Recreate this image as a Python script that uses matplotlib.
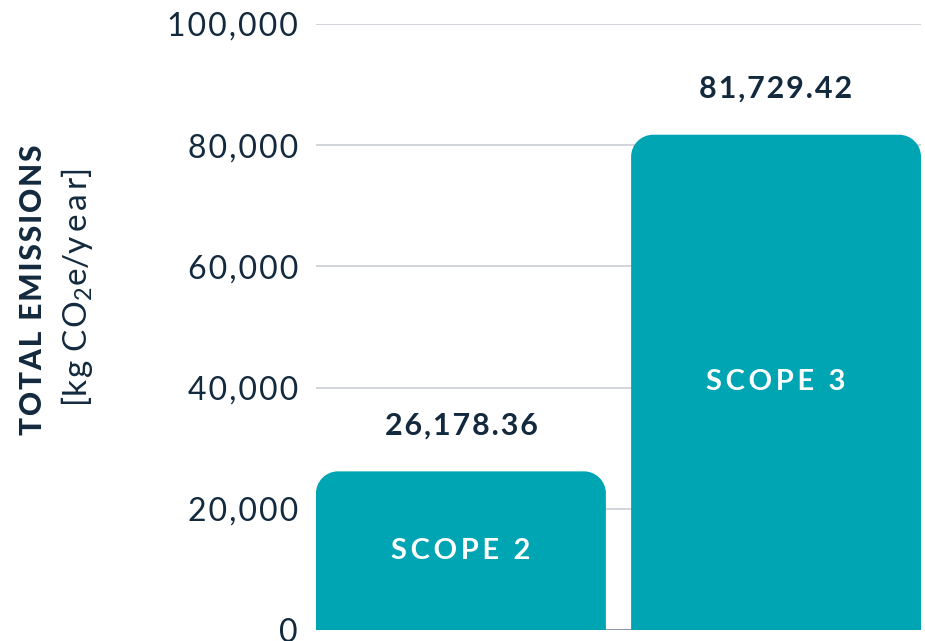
import matplotlib
matplotlib.use("Agg")
import matplotlib.pyplot as plt
from matplotlib.path import Path
from matplotlib.patches import PathPatch
import numpy as np

categories = ["SCOPE 2", "SCOPE 3"]
values = [26178.36, 81729.42]
value_labels = ["26,178.36", "81,729.42"]
yticks = [0, 20000, 40000, 60000, 80000, 100000]
ytick_labels = ["0", "20,000", "40,000", "60,000", "80,000", "100,000"]

plt.rcParams['font.family'] = ['Lato', 'DejaVu Sans']
plt.rcParams['mathtext.fontset'] = 'custom'
plt.rcParams['mathtext.rm'] = 'Lato'

BAR = "#00A5B4"
TEXT = "#13293D"
GRID = "#C9CED6"


def spaced(s, sep="\u200a"):
    return sep.join(list(s))


W, H = 925, 641
fig = plt.figure(figsize=(W / 100, H / 100), dpi=100)
ax = fig.add_axes([316 / W, (H - 630) / H, (921 - 316) / W, (630 - 24) / H])
ax.set_xlim(-0.46, 1.46)
ax.set_ylim(0, 100000)

ax.set_yticks(yticks)
ax.set_yticklabels([spaced(t) for t in ytick_labels], fontsize=23, color=TEXT)
ax.tick_params(axis='y', length=0, pad=13)
ax.set_xticks([])
for s in ax.spines.values():
    s.set_visible(False)
ax.grid(axis='y', color=GRID, lw=1.2)
ax.set_axisbelow(True)
ax.axhline(0, color="#8C96A3", lw=1.5, zorder=1)

x = np.arange(len(categories))
bars = ax.bar(x, values, width=0.92, color='none', edgecolor='none')

fig.canvas.draw()
r_px = 22
inv = ax.transData.inverted()
p0 = inv.transform((0, 0))
p1 = inv.transform((r_px, r_px))
rx, ry = p1[0] - p0[0], p1[1] - p0[1]
k = 0.5523
for b in bars:
    x0, y0 = b.get_x(), b.get_y()
    x1, y1 = x0 + b.get_width(), y0 + b.get_height()
    verts = [
        (x0, y0), (x0, y1 - ry),
        (x0, y1 - ry + k * ry), (x0 + rx - k * rx, y1), (x0 + rx, y1),
        (x1 - rx, y1),
        (x1 - rx + k * rx, y1), (x1, y1 - ry + k * ry), (x1, y1 - ry),
        (x1, y0), (x0, y0)]
    codes = [Path.MOVETO, Path.LINETO,
             Path.CURVE4, Path.CURVE4, Path.CURVE4,
             Path.LINETO,
             Path.CURVE4, Path.CURVE4, Path.CURVE4,
             Path.LINETO, Path.CLOSEPOLY]
    ax.add_patch(PathPatch(Path(verts, codes), facecolor=BAR, edgecolor='none', zorder=3))

for xi, v, lab, cat in zip(x, values, value_labels, categories):
    ax.annotate(spaced(lab), (xi, v), xytext=(0, 33), textcoords='offset points',
                ha='center', va='center', fontsize=22, fontweight='bold', color=TEXT, zorder=4)
    ax.text(xi, v / 2, spaced(cat, "\u2009"), ha='center', va='center', fontsize=21,
            fontweight='bold', color='white', zorder=4)

fig.text(33 / W, 1 - 290 / H, spaced("TOTAL EMISSIONS"), rotation=90, ha='center', va='center',
         fontsize=21.5, fontweight='black', color=TEXT)
fig.text(77 / W, 1 - 288 / H, "[" + spaced("kg") + " C" + "\u200a" + r"O$_2$e/" + spaced("year", "\u2009") + "]",
         rotation=90, ha='center', va='center', fontsize=24, color=TEXT)

fig.savefig("out.png", dpi=100)
